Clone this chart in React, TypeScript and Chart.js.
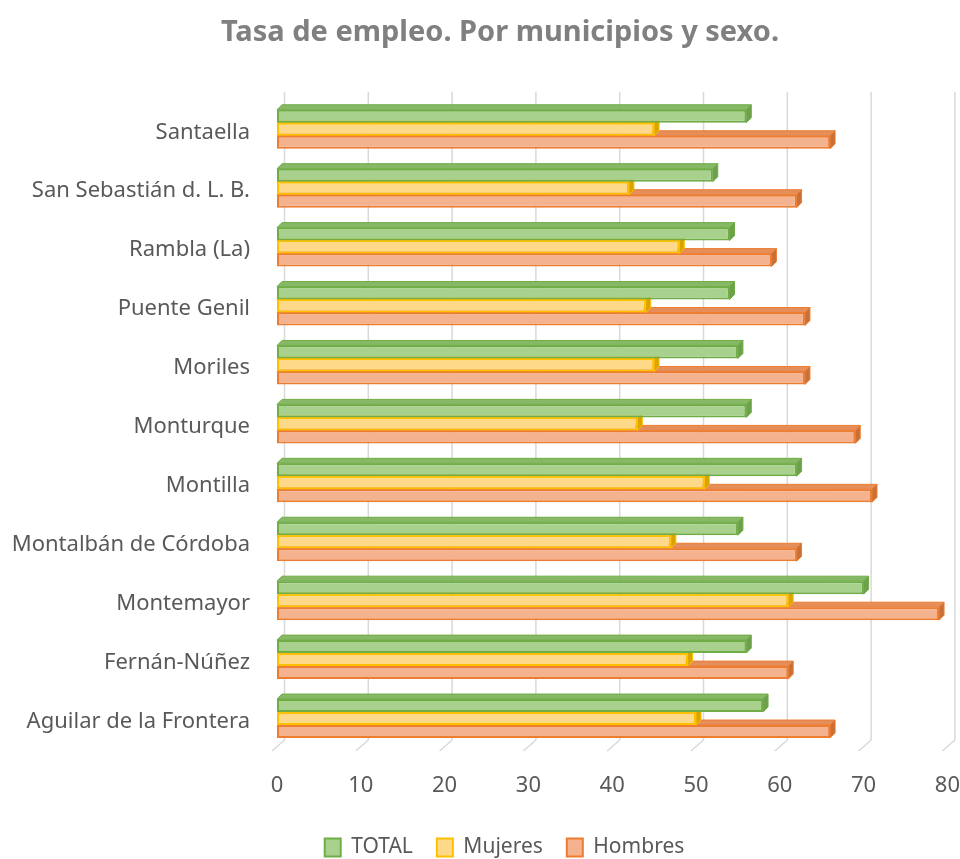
import React, { useEffect, useRef } from "react";
import { Chart, registerables } from "chart.js";

Chart.register(...registerables);

const TITLE = "Tasa de empleo. Por municipios y sexo.";
const categories = [
  "Santaella",
  "San Sebastián d. L. B.",
  "Rambla (La)",
  "Puente Genil",
  "Moriles",
  "Monturque",
  "Montilla",
  "Montalbán de Córdoba",
  "Montemayor",
  "Fernán-Núñez",
  "Aguilar de la Frontera",
];
const seriesNames = ["TOTAL", "Mujeres", "Hombres"];
const totalValues = [56, 52, 54, 54, 55, 56, 62, 55, 70, 56, 58];
const mujeresValues = [45, 42, 48, 44, 45, 43, 51, 47, 61, 49, 50];
const hombresValues = [66, 62, 59, 63, 63, 69, 71, 62, 79, 61, 66];
const xTickValues = [0, 10, 20, 30, 40, 50, 60, 70, 80];

const FRONT = ["#A9D18E", "#FFD98A", "#F4B28F"];
const BORDER = ["#70AD47", "#FFC000", "#ED7D31"];
const TOPFACE = ["#86B865", "#F2C24A", "#E58E5A"];
const SIDEFACE = ["#6E9F4C", "#D9A300", "#C96F38"];
const DEPTH = 5;
const FONT = "'Noto Sans', 'DejaVu Sans', sans-serif";

const threeD = {
  id: "threeD",
  afterLayout(chart: any) {
    if (chart.titleBlock) chart.titleBlock.left = 47;
    if (chart.legend) chart.legend.left = 56;
  },
  beforeDatasetsDraw(chart: any) {
    const { ctx, chartArea, scales } = chart;
    const xs = scales.x;
    ctx.save();
    ctx.strokeStyle = "#D9D9D9";
    ctx.lineWidth = 1.5;
    xTickValues.forEach((v) => {
      const px = xs.getPixelForValue(v);
      ctx.beginPath();
      ctx.moveTo(px + 7.5, chartArea.top - 8);
      ctx.lineTo(px + 7.5, chartArea.bottom - 8);
      ctx.stroke();
      ctx.beginPath();
      ctx.moveTo(px - 5, chartArea.bottom + 3);
      ctx.lineTo(px + 7.5, chartArea.bottom - 8);
      ctx.stroke();
    });
    ctx.restore();
  },
  beforeDatasetDraw(chart: any, args: any) {
    const i = args.index;
    const { ctx } = chart;
    ctx.save();
    ctx.lineWidth = 1;
    ctx.lineJoin = "round";
    args.meta.data.forEach((el: any) => {
      const top = el.y - el.height / 2;
      const bottom = el.y + el.height / 2;
      const left = Math.min(el.base, el.x);
      const right = Math.max(el.base, el.x);
      ctx.strokeStyle = BORDER[i];
      ctx.fillStyle = TOPFACE[i];
      ctx.beginPath();
      ctx.moveTo(left, top);
      ctx.lineTo(right, top);
      ctx.lineTo(right + DEPTH, top - DEPTH);
      ctx.lineTo(left + DEPTH, top - DEPTH);
      ctx.closePath();
      ctx.fill();
      ctx.stroke();
      ctx.fillStyle = SIDEFACE[i];
      ctx.beginPath();
      ctx.moveTo(right, top);
      ctx.lineTo(right, bottom);
      ctx.lineTo(right + DEPTH, bottom - DEPTH);
      ctx.lineTo(right + DEPTH, top - DEPTH);
      ctx.closePath();
      ctx.fill();
      ctx.stroke();
    });
    ctx.restore();
  },
};

export default function App() {
  const ref = useRef<HTMLCanvasElement | null>(null);
  useEffect(() => {
    if (!ref.current) return;
    const seriesValues = [totalValues, mujeresValues, hombresValues];
    const chart = new Chart(ref.current, {
      type: "bar",
      data: {
        labels: categories,
        datasets: seriesNames.map((name, i) => ({
          label: name,
          data: seriesValues[i],
          backgroundColor: FRONT[i],
          borderColor: BORDER[i],
          borderWidth: 2,
          borderSkipped: false,
          categoryPercentage: 0.662,
          barPercentage: 1,
        })),
      },
      options: {
        indexAxis: "y",
        responsive: false,
        animation: false,
        layout: { padding: { left: 0, right: 32, top: 0, bottom: 0 } },
        scales: {
          x: {
            min: 0,
            max: 80,
            grid: { display: false, drawTicks: false },
            border: { display: false },
            ticks: {
              stepSize: 10,
              padding: 25,
              color: "#595959",
              font: { family: FONT, size: 22 },
            },
            afterFit: (scale: any) => {
              scale.height = 65;
            },
          },
          y: {
            grid: { display: false, drawTicks: false },
            border: { display: false },
            ticks: {
              padding: 27,
              labelOffset: 3,
              color: "#595959",
              font: { family: FONT, size: 22 },
            },
            afterFit: (scale: any) => {
              scale.width = 277;
            },
          },
        },
        plugins: {
          title: {
            display: true,
            text: TITLE,
            color: "#808080",
            font: { family: FONT, size: 29, weight: "bold" },
            padding: { top: 15, bottom: 50 },
          },
          legend: {
            position: "bottom",
            labels: {
              color: "#595959",
              font: { family: FONT, size: 21 },
              boxWidth: 16,
              boxHeight: 18,
              padding: 24,
            },
          },
          tooltip: { enabled: false },
        },
      },
      plugins: [threeD],
    });
    return () => chart.destroy();
  }, []);
  return (
    <div
      style={{
        position: "fixed",
        left: 0,
        top: 0,
        width: 960,
        height: 859,
        overflow: "hidden",
        background: "#ffffff",
      }}
    >
      <canvas ref={ref} width={985} height={868} style={{ display: "block" }} />
    </div>
  );
}
